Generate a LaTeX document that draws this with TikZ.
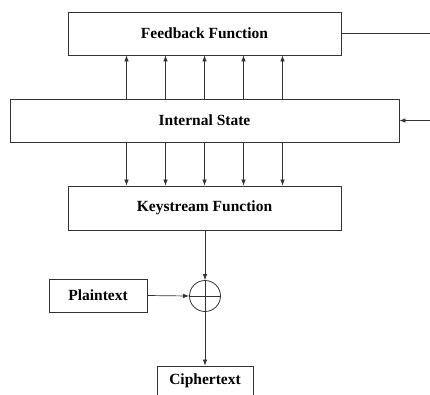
\documentclass[tikz,border=0pt]{standalone}
\usepackage{fontspec}
\setmainfont{Liberation Serif}
\usetikzlibrary{arrows.meta}
\tikzset{
  box/.style={draw=black!80, line width=0.8pt, rectangle, inner sep=0pt, font=\fontsize{15.5}{17}\selectfont\bfseries},
  arr/.style={draw=black!80, line width=0.7pt, -{Latex[length=6pt,width=4.5pt]}},
  ln/.style={draw=black!80, line width=0.8pt},
  xorc/.style={draw=black!80, line width=0.8pt, circle, minimum size=31pt, inner sep=0pt,
    path picture={\draw[black!80, line width=0.7pt] (path picture bounding box.north) -- (path picture bounding box.south) (path picture bounding box.west) -- (path picture bounding box.east);}}
}
\begin{document}
\begin{tikzpicture}[x=1pt,y=-1pt]
\useasboundingbox (0,0) rectangle (430,394);
\node[box, minimum width=273pt, minimum height=43pt] (ff) at (204.5,33.5) {Feedback Function};
\node[box, minimum width=389pt, minimum height=43pt] (is) at (204.5,120.5) {Internal State};
\node[box, minimum width=273pt, minimum height=44pt] (ks) at (204.5,208) {Keystream Function};
\node[box, minimum width=98pt, minimum height=33pt] (pt) at (98,295.5) {Plaintext};
\node[xorc] (xor) at (205,296) {};
\node[box, minimum width=96pt, minimum height=30pt] (ct) at (205,381) {Ciphertext};
\coordinate (fbout) at (430,33.5);
\coordinate (fbin) at (430,120.5);
\foreach \dx in {-78,-39,0,39,78} {
  \draw[arr] ([xshift=\dx pt]is.north) -- ([xshift=\dx pt]ff.south);
  \draw[arr] ([xshift=\dx pt]is.south) -- ([xshift=\dx pt]ks.north);
}
\draw[ln] (ff.east) -- (fbout);
\draw[arr] (fbin) -- (is.east);
\draw[arr] (ks.south -| xor.north) -- (xor.north);
\draw[arr] (pt.east) -- (xor.west);
\draw[arr] (xor.south) -- (xor.south |- ct.north);
\end{tikzpicture}
\end{document}
